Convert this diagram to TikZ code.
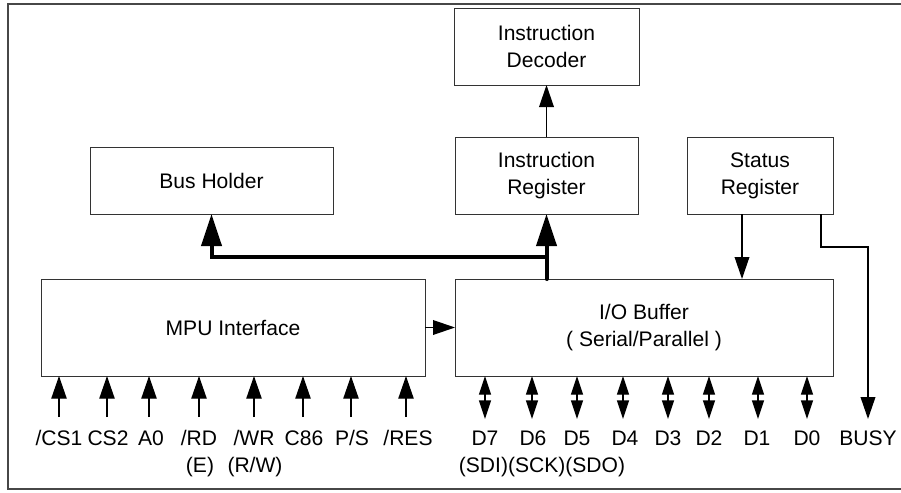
\documentclass[tikz,border=0pt]{standalone}
\usepackage{fontspec}
\setmainfont{Liberation Sans}
\usetikzlibrary{arrows.meta}

\tikzset{every picture/.style={line width=0.75pt}}
\tikzset{
  blk/.style={draw=black!80, line width=0.75pt, inner sep=0pt, outer sep=0pt, align=center},
  lbl/.style={anchor=base, inner sep=0pt},
  arr/.style={line width=1pt, -{Triangle[length=16.5pt,width=11pt]}},
  pin/.style={line width=1pt, -{Triangle[length=17pt,width=11.5pt]}},
  dpin/.style={line width=1pt, {Triangle[length=14pt,width=9pt]}-{Triangle[length=14pt,width=9pt]}},
  bus/.style={line width=3pt, line cap=round},
  frame/.style={draw=black!72, line width=1.5pt}
}

\begin{document}
\begin{tikzpicture}[x=0.75pt,y=0.75pt,yscale=-1,xscale=1,
  every node/.append style={font=\fontsize{15.8}{20.25}\selectfont}]
\useasboundingbox (0,0) rectangle (901,493);
% Outer frame
\draw[frame] (901,4) -- (8,4) -- (8,489) -- (901,489);

% Blocks
\node[blk, minimum width=185*0.75pt, minimum height=77*0.75pt] (dec) at (546.5,46.5) {Instruction\\Decoder};
\node[blk, minimum width=183*0.75pt, minimum height=77*0.75pt] (ireg) at (546.5,175.5) {Instruction\\Register};
\node[blk, minimum width=146*0.75pt, minimum height=77*0.75pt] (sreg) at (760,175.5) {Status\\Register};
\node[blk, minimum width=243*0.75pt, minimum height=67*0.75pt] (bush) at (211.5,180.5) {Bus Holder};
\node[blk, minimum width=384*0.75pt, minimum height=97*0.75pt] (mpu) at (233,327.5) {MPU Interface};
\node[blk, minimum width=378*0.75pt, minimum height=97*0.75pt] (iobuf) at (644,327.5) {I/O Buffer\\( Serial/Parallel )};

% Internal bus
\coordinate (busj) at (546.5,257);
\draw[bus] (iobuf.north -| busj) -- (busj);
\draw[bus, -{Triangle[length=24pt,width=15pt]}] (busj) -- (ireg.south);
\draw[bus, -{Triangle[length=24pt,width=15pt]}] (busj) -| (bush.south);

% Control paths
\draw[arr] (ireg) -- (dec);
\draw[arr] (mpu) -- (iobuf);
\draw[arr] (sreg.south -| 742,0) -- (iobuf.north -| 742,0);
\coordinate (pbusy) at (868,419);
\draw[arr, line width=1.2pt] (sreg.south -| 821,0) |- (868,247) -- (pbusy);

% MPU pins
\foreach \x [count=\i] in {59,107,149,199,254,303,351,406} {
  \coordinate (m\i) at (\x,417);
  \draw[pin] (m\i) -- (m\i |- mpu.south);
}
% Data pins
\foreach \x [count=\i] in {485,532,577,623,668,709,758,807} {
  \coordinate (d\i) at (\x,419);
  \draw[dpin] (d\i) -- (d\i |- iobuf.south);
}

% Pin labels
\node[lbl] (lcs1) at (59,445) {/CS1};
\node[lbl] (lcs2) at (108,445) {CS2};
\node[lbl] (la0) at (151,445) {A0};
\node[lbl] (lrd) at (199,445) {/RD};
\node[lbl] (le) at (200,472) {(E)};
\node[lbl] (lwr) at (254,445) {/WR};
\node[lbl] (lrw) at (255,472) {(R/W)};
\node[lbl] (lc86) at (304,445) {C86};
\node[lbl] (lps) at (352,445) {P/S};
\node[lbl] (lres) at (408,445) {/RES};
\node[lbl] (ld7) at (485,445) {D7};
\node[lbl] (ld6) at (533,445) {D6};
\node[lbl] (ld5) at (577,445) {D5};
\node[lbl] (ld4) at (625,445) {D4};
\node[lbl] (ld3) at (668,445) {D3};
\node[lbl] (ld2) at (709,445) {D2};
\node[lbl] (ld1) at (757,445) {D1};
\node[lbl] (ld0) at (807,445) {D0};
\node[lbl] (lser) at (542,472) {(SDI)(SCK)(SDO)};
\node[lbl] (lbusy) at (868,445) {BUSY};
\end{tikzpicture}
\end{document}
